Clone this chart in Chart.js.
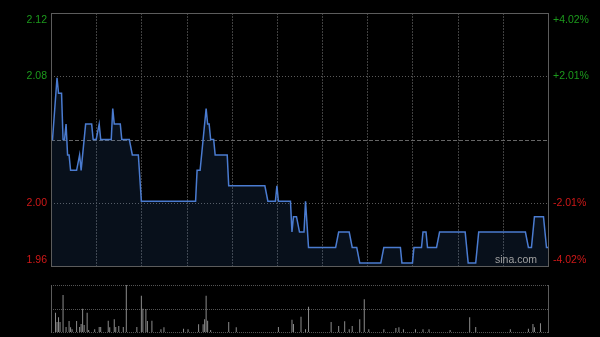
<!DOCTYPE html>
<html>
<head>
<meta charset="utf-8">
<script src="https://cdn.jsdelivr.net/npm/chart.js@4"></script>
<style>
  body { margin: 0; background: #000; }
  #wrap { position: relative; width: 600px; height: 337px; background: #000; }
  canvas { position: absolute; left: 0; }
</style>
</head>
<body>
<div id="wrap">
  <canvas id="priceChart" width="600" height="280" style="top:0"></canvas>
  <canvas id="volChart" width="600" height="57" style="top:280px"></canvas>
</div>
<script>
// previous close and the +/- range shown on the chart
const prevClose = 2.04;
const maxPct = 4.02;

// left / right tick labels, top to bottom (quarters of the range)
const priceLabels = ['2.12', '2.08', '', '2.00', '1.96'];
const pctLabels = ['+4.02%', '+2.01%', '', '-2.01%', '-4.02%'];

// minutes since 09:30 (330 trading minutes), vertical grid every 30
const timeGrid = [30, 60, 90, 120, 150, 180, 210, 240, 270, 300];

// price line vertices: minute -> price
const priceMinutes = [0, 1, 4, 5, 7, 8, 9, 10, 11, 12, 13, 17, 19, 20, 21, 23, 27, 28, 30, 32, 33, 40, 41, 42, 46, 47, 52, 54, 58, 60,
  96, 97, 99, 101, 103, 104, 105, 106, 108, 109, 117, 118, 142, 144, 149, 150, 151, 159, 160, 161, 163, 165, 168, 169, 171,
  189, 191, 198, 200, 203, 205, 219, 221, 232, 233, 240, 241, 246, 247, 249, 250, 256, 258, 275, 277, 282, 284,
  315, 317, 319, 321, 327, 329, 330];
const prices = [2.04, 2.04, 2.08, 2.07, 2.07, 2.04, 2.04, 2.05, 2.03, 2.03, 2.02, 2.02, 2.03, 2.02, 2.03, 2.05, 2.05, 2.04, 2.04, 2.05, 2.04, 2.04, 2.06, 2.05, 2.05, 2.04, 2.04, 2.03, 2.03, 2.00,
  2.00, 2.02, 2.02, 2.04, 2.06, 2.05, 2.05, 2.04, 2.04, 2.03, 2.03, 2.01, 2.01, 2.00, 2.00, 2.01, 2.00, 2.00, 1.98, 1.99, 1.99, 1.98, 1.98, 2.00, 1.97,
  1.97, 1.98, 1.98, 1.97, 1.97, 1.96, 1.96, 1.97, 1.97, 1.96, 1.96, 1.97, 1.97, 1.98, 1.98, 1.97, 1.97, 1.98, 1.98, 1.96, 1.96, 1.98,
  1.98, 1.97, 1.97, 1.99, 1.99, 1.97, 1.97];

// volume bars: minute -> volume (relative units)
const volMinutes = [3, 4, 5, 6, 8, 10, 12, 13, 14, 17, 19, 20, 21, 22, 24, 25, 29, 32, 33, 38, 39, 42, 43, 45, 48, 50, 57, 60, 61, 63, 64, 67, 73, 75,
  88, 91, 98, 101, 102, 103, 104, 106, 118, 123, 151, 160, 161, 166, 169, 171, 186, 191, 195, 198, 200, 205, 208, 211,
  221, 229, 231, 234, 242, 247, 251, 265, 278, 282, 305, 317, 320, 321, 325];
const volumes = [193, 100, 147, 100, 370, 50, 110, 47, 27, 110, 50, 80, 233, 70, 193, 20, 27, 50, 50, 113, 47, 127, 50, 60, 50, 470, 50, 363, 233, 230, 110, 113, 27, 47,
  33, 27, 77, 77, 127, 363, 113, 20, 100, 47, 50, 123, 80, 153, 27, 253, 100, 60, 107, 27, 60, 127, 327, 27,
  27, 40, 47, 27, 27, 27, 27, 20, 147, 50, 27, 33, 80, 47, 87];

const upColor = '#1c9a1c';
const downColor = '#d01818';
const font = '10.5px "Liberation Sans", Arial, sans-serif';

const yMin = prevClose * (1 - maxPct / 100);
const yMax = prevClose * (1 + maxPct / 100);
const quarterValues = [0, 1, 2, 3, 4].map(k => yMax - (yMax - yMin) * k / 4);

const crisp = v => Math.round(v) + 0.5;

const priceFrame = {
    id: 'priceFrame',
    beforeDatasetsDraw(chart) {
        const { ctx, chartArea: a, scales } = chart;
        ctx.save();
        ctx.lineWidth = 1;
        // vertical time grid
        ctx.strokeStyle = '#404040';
        ctx.setLineDash([2, 1]);
        timeGrid.forEach(m => {
            const x = crisp(scales.x.getPixelForValue(m));
            ctx.beginPath(); ctx.moveTo(x, a.top); ctx.lineTo(x, a.bottom); ctx.stroke();
        });
        // horizontal quarter lines
        [1, 3].forEach(k => {
            const y = crisp(scales.y.getPixelForValue(quarterValues[k]));
            ctx.strokeStyle = '#5a5a5a';
            ctx.setLineDash([1, 2]);
            ctx.beginPath(); ctx.moveTo(a.left, y); ctx.lineTo(a.right, y); ctx.stroke();
        });
        // previous close
        const yc = crisp(scales.y.getPixelForValue(prevClose));
        ctx.strokeStyle = '#666';
        ctx.setLineDash([4, 2]);
        ctx.beginPath(); ctx.moveTo(a.left, yc); ctx.lineTo(a.right, yc); ctx.stroke();
        ctx.restore();
    },
    afterDatasetsDraw(chart) {
        const { ctx, chartArea: a } = chart;
        ctx.save();
        ctx.lineWidth = 1;
        ctx.strokeStyle = '#5c5c5c';
        ctx.strokeRect(crisp(a.left), crisp(a.top), Math.round(a.right - a.left), Math.round(a.bottom - a.top));

        // axis labels
        ctx.font = font;
        quarterValues.forEach((v, k) => {
            if (!priceLabels[k]) return;
            const y = chart.scales.y.getPixelForValue(v);
            ctx.fillStyle = v > prevClose ? upColor : downColor;
            ctx.textBaseline = k === 0 ? 'top' : (k === 4 ? 'bottom' : 'middle');
            const ty = k === 0 ? y + 2 : (k === 4 ? y - 1 : y);
            ctx.textAlign = 'right';
            ctx.fillText(priceLabels[k], a.left - 4, ty);
            ctx.textAlign = 'left';
            ctx.fillText(pctLabels[k], a.right + 5, ty);
        });

        // watermark
        ctx.fillStyle = '#a0a0a0';
        ctx.textAlign = 'right';
        ctx.textBaseline = 'bottom';
        ctx.fillText('sina.com', a.right - 11, a.bottom - 1);
        ctx.restore();
    }
};

const volFrame = {
    id: 'volFrame',
    beforeDatasetsDraw(chart) {
        const { ctx, chartArea: a } = chart;
        ctx.save();
        ctx.lineWidth = 1;
        ctx.strokeStyle = '#555';
        ctx.setLineDash([1, 1]);
        [a.top, (a.top + a.bottom) / 2, a.bottom].forEach(v => {
            const y = crisp(v);
            ctx.beginPath(); ctx.moveTo(a.left, y); ctx.lineTo(a.right, y); ctx.stroke();
        });
        ctx.setLineDash([]);
        ctx.strokeStyle = '#5c5c5c';
        [a.left, a.right].forEach(v => {
            const x = crisp(v);
            ctx.beginPath(); ctx.moveTo(x, a.top); ctx.lineTo(x, a.bottom + 1); ctx.stroke();
        });
        ctx.restore();
    }
};

new Chart(document.getElementById('priceChart').getContext('2d'), {
    type: 'line',
    data: {
        datasets: [{
            data: priceMinutes.map((m, i) => ({ x: m, y: prices[i] })),
            borderColor: '#4a7bd0',
            borderWidth: 1.5,
            backgroundColor: 'rgba(60,110,190,0.14)',
            fill: 'start',
            tension: 0,
            pointRadius: 0
        }]
    },
    options: {
        responsive: false,
        animation: false,
        layout: { padding: { left: 51, right: 52, top: 13, bottom: 14 } },
        plugins: { legend: { display: false }, tooltip: { enabled: false } },
        scales: {
            x: { type: 'linear', min: 0, max: 330, display: false },
            y: { min: yMin, max: yMax, display: false }
        }
    },
    plugins: [priceFrame]
});

new Chart(document.getElementById('volChart').getContext('2d'), {
    type: 'bar',
    data: {
        datasets: [{
            data: volMinutes.map((m, i) => ({ x: m, y: volumes[i] })),
            backgroundColor: '#8c8c8c',
            barThickness: 1,
            inflateAmount: 0
        }]
    },
    options: {
        responsive: false,
        animation: false,
        layout: { padding: { left: 51, right: 52, top: 5, bottom: 5 } },
        plugins: { legend: { display: false }, tooltip: { enabled: false } },
        scales: {
            x: { type: 'linear', min: 0, max: 330, offset: false, display: false },
            y: { min: 0, max: 470, display: false }
        }
    },
    plugins: [volFrame]
});
</script>
</body>
</html>
